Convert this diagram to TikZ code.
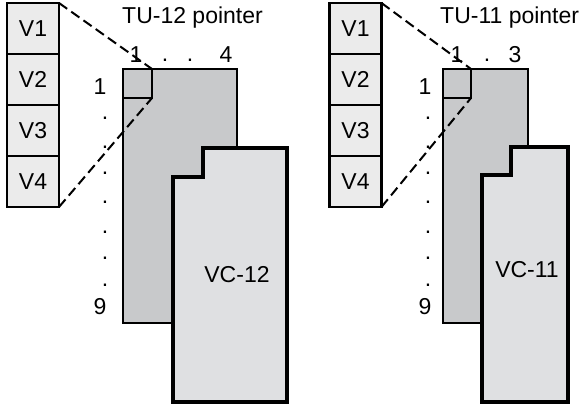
\documentclass[tikz,border=0pt]{standalone}
\usepackage{fontspec}
\setmainfont{Liberation Sans}
\definecolor{vfill}{HTML}{EBEBEB}
\definecolor{tufill}{HTML}{C8C9CB}
\definecolor{vcfill}{HTML}{DFE0E2}
\begin{document}
\begin{tikzpicture}[x=1pt,y=-1pt,
  vbox/.style={draw=black,fill=vfill,line width=2.3pt,minimum width=52pt,minimum height=51pt,inner sep=0pt,outer sep=0pt,font=\fontsize{23}{26}\selectfont},
  tubox/.style={draw=black,fill=tufill,line width=2.3pt,inner sep=0pt,outer sep=0pt},
  ptrsq/.style={draw=black,line width=2.8pt,inner sep=0pt,outer sep=0pt},
  vcshape/.style={draw=black,fill=vcfill,line width=3.2pt,line join=miter},
  lbl/.style={inner sep=0pt,font=\fontsize{23}{26}\selectfont},
  proj/.style={line width=2pt,dash pattern=on 10pt off 5pt}
]
\useasboundingbox (0,0) rectangle (581,407);

% ---------- left group ----------
\node[tubox,minimum width=114pt,minimum height=254pt] (tuA) at (180,196) {};
\node[ptrsq,minimum width=29pt,minimum height=29pt] (sqA) at (137.5,83.5) {};
\draw[vcshape] (173,177) -- (203,177) -- (203,148) -- (287,148) -- (287,402) -- (173,402) -- cycle;
\node[lbl] (vcA) at (237,275) {VC-12};
\node[vbox] (v1A) at (33,28.5) {V1};
\node[vbox] (v2A) at (33,79.5) {V2};
\node[vbox] (v3A) at (33,130.5) {V3};
\node[vbox] (v4A) at (33,181.5) {V4};
\draw[proj] (v1A.north east) -- (sqA.north east);
\draw[proj] (v4A.south east) -- (sqA.south east);
\node[lbl,anchor=base west] (titA) at (122,23) {TU-12 pointer};
\node[lbl] (c1A) at (136,55) {1};
\node[lbl] (c2A) at (165,60) {.};
\node[lbl] (c3A) at (190,60) {.};
\node[lbl] (c4A) at (226,55) {4};
\node[lbl] (r1A) at (100,87) {1};
\foreach \k/\yy in {1/118,2/147,3/173,4/202,5/232,6/258,7/285}
  \node[lbl] (rdA\k) at (105,\yy) {.};
\node[lbl] (r9A) at (100,307) {9};

% ---------- right group ----------
\node[tubox,minimum width=85pt,minimum height=254pt] (tuB) at (485.5,196) {};
\node[ptrsq,minimum width=28pt,minimum height=29pt] (sqB) at (457,83.5) {};
\draw[vcshape] (482,175) -- (511,175) -- (511,147) -- (568,147) -- (568,402) -- (482,402) -- cycle;
\node[lbl] (vcB) at (527,270) {VC-11};
\node[vbox] (v1B) at (355.5,28.5) {V1};
\node[vbox] (v2B) at (355.5,79.5) {V2};
\node[vbox] (v3B) at (355.5,130.5) {V3};
\node[vbox] (v4B) at (355.5,181.5) {V4};
\draw[proj] (v1B.north east) -- (sqB.north east);
\draw[proj] (v4B.south east) -- (sqB.south east);
\node[lbl,anchor=base west] (titB) at (440,23) {TU-11 pointer};
\node[lbl] (c1B) at (457,55) {1};
\node[lbl] (c2B) at (487,60) {.};
\node[lbl] (c3B) at (515,55) {3};
\node[lbl] (r1B) at (425,87) {1};
\foreach \k/\yy in {1/118,2/147,3/173,4/202,5/232,6/258,7/285}
  \node[lbl] (rdB\k) at (428,\yy) {.};
\node[lbl] (r9B) at (425,307) {9};
\end{tikzpicture}
\end{document}
